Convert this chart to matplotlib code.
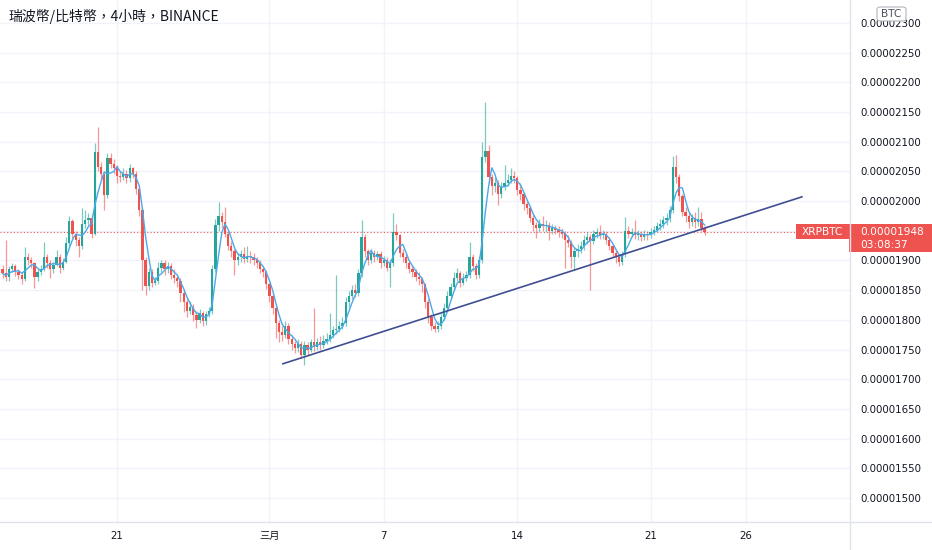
import numpy as np
import pandas as pd
import matplotlib
matplotlib.use("Agg")
import matplotlib.pyplot as plt
import matplotlib.dates as mdates
from matplotlib.patches import Rectangle, FancyBboxPatch
from matplotlib.lines import Line2D

plt.rcParams['font.family'] = ['DejaVu Sans', 'Noto Sans CJK TC']

# === DATA (prices in satoshi, 4h candles starting 2022-02-15 00:00) ===
first_open = 1885
closes = [
    1878, 1872, 1885, 1890, 1880, 1876, 1868, 1905, 1900, 1895,
    1872, 1880, 1885, 1906, 1895, 1885, 1893, 1905, 1888, 1898,
    1930, 1966, 1945, 1935, 1925, 1962, 1968, 1972, 1945, 2082,
    2058, 2045, 2010, 2072, 2062, 2055, 2042, 2040, 2046, 2038,
    2055, 2045, 2020, 1985, 1900, 1857, 1880, 1862, 1865, 1888,
    1895, 1885, 1890, 1876, 1870, 1865, 1845, 1830, 1815, 1822,
    1808, 1800, 1812, 1798, 1810, 1815, 1885, 1960, 1975, 1965,
    1945, 1925, 1915, 1900, 1905, 1910, 1902, 1908, 1905, 1900,
    1895, 1885, 1880, 1860, 1840, 1820, 1795, 1780, 1775, 1790,
    1768, 1760, 1752, 1760, 1740, 1758, 1750, 1762, 1755, 1762,
    1758, 1765, 1768, 1775, 1782, 1785, 1790, 1795, 1830, 1840,
    1850, 1845, 1878, 1940, 1915, 1900, 1912, 1905, 1910, 1895,
    1900, 1888, 1895, 1948, 1942, 1912, 1905, 1895, 1885, 1880,
    1872, 1868, 1860, 1830, 1805, 1790, 1785, 1790, 1805, 1820,
    1840, 1855, 1870, 1878, 1862, 1870, 1875, 1905, 1890, 1875,
    1900, 2074, 2085, 2040, 2025, 2030, 2012, 2025, 2030, 2035,
    2042, 2038, 2018, 2012, 1995, 1988, 1972, 1960, 1955, 1962,
    1958, 1960, 1950, 1955, 1952, 1948, 1945, 1935, 1930, 1905,
    1915, 1920, 1925, 1935, 1940, 1932, 1945, 1948, 1943, 1945,
    1935, 1925, 1912, 1905, 1898, 1910, 1950, 1945, 1948, 1942,
    1945, 1940, 1945, 1942, 1948, 1952, 1958, 1962, 1968, 1972,
    1985, 2058, 2040, 2008, 1982, 1975, 1965, 1972, 1965, 1970,
    1955, 1948,
]
highs = [
    1892, 1934, 1890, 1896, 1894, 1886, 1880, 1922, 1912, 1906,
    1898, 1886, 1892, 1931, 1910, 1900, 1898, 1918, 1910, 1904,
    1940, 1975, 1970, 1950, 1940, 1988, 1985, 1980, 1978, 2098,
    2125, 2065, 2050, 2080, 2080, 2070, 2060, 2050, 2055, 2052,
    2062, 2058, 2050, 2025, 1990, 1905, 1888, 1885, 1872, 1898,
    1900, 1900, 1898, 1895, 1885, 1875, 1870, 1850, 1835, 1832,
    1826, 1815, 1818, 1815, 1815, 1822, 1892, 1970, 1998, 1982,
    1990, 1950, 1932, 1920, 1912, 1918, 1922, 1925, 1915, 1912,
    1905, 1900, 1890, 1884, 1862, 1845, 1825, 1800, 1790, 1798,
    1795, 1775, 1765, 1768, 1765, 1765, 1762, 1768, 1820, 1770,
    1772, 1775, 1778, 1811, 1790, 1875, 1798, 1805, 1838, 1848,
    1858, 1860, 1885, 1968, 1945, 1920, 1920, 1918, 1916, 1915,
    1908, 1905, 1902, 1980, 1962, 1945, 1920, 1910, 1900, 1892,
    1885, 1880, 1872, 1862, 1835, 1810, 1796, 1798, 1812, 1828,
    1848, 1862, 1880, 1888, 1882, 1878, 1882, 1931, 1910, 1895,
    1908, 2100, 2167, 2095, 2045, 2040, 2035, 2032, 2060, 2045,
    2055, 2050, 2042, 2030, 2016, 2000, 1992, 1978, 1965, 1970,
    1975, 1968, 1965, 1962, 1960, 1958, 1955, 1950, 1942, 1935,
    1922, 1928, 1932, 1942, 1948, 1945, 1952, 1955, 1960, 1952,
    1950, 1940, 1928, 1918, 1910, 1915, 1973, 1958, 1955, 1968,
    1952, 1950, 1952, 1950, 1955, 1958, 1965, 1970, 1975, 1980,
    1992, 2075, 2077, 2045, 2012, 1990, 1980, 1978, 1982, 1990,
    1982, 1958,
]
lows = [
    1870, 1865, 1866, 1880, 1874, 1868, 1860, 1865, 1893, 1888,
    1853, 1866, 1875, 1882, 1888, 1870, 1878, 1890, 1878, 1884,
    1895, 1925, 1938, 1925, 1905, 1920, 1955, 1960, 1938, 1942,
    2050, 2035, 1985, 2005, 2055, 2045, 2030, 2032, 2035, 2030,
    2032, 2038, 2012, 1975, 1850, 1842, 1850, 1855, 1858, 1860,
    1880, 1875, 1878, 1868, 1862, 1855, 1830, 1813, 1805, 1810,
    1798, 1786, 1795, 1790, 1792, 1805, 1810, 1880, 1950, 1955,
    1940, 1918, 1905, 1875, 1893, 1898, 1895, 1898, 1896, 1892,
    1888, 1878, 1872, 1852, 1830, 1810, 1770, 1763, 1765, 1770,
    1760, 1750, 1744, 1745, 1735, 1724, 1740, 1745, 1748, 1750,
    1750, 1752, 1760, 1762, 1770, 1776, 1780, 1785, 1790, 1822,
    1835, 1838, 1840, 1872, 1905, 1893, 1895, 1898, 1900, 1888,
    1890, 1882, 1855, 1890, 1935, 1905, 1898, 1888, 1878, 1872,
    1865, 1858, 1847, 1820, 1795, 1782, 1780, 1780, 1785, 1800,
    1815, 1835, 1850, 1865, 1855, 1858, 1865, 1870, 1882, 1868,
    1870, 1895, 2065, 2030, 2010, 2015, 1993, 2005, 2018, 2025,
    2030, 2030, 2010, 2002, 1985, 1978, 1965, 1950, 1938, 1948,
    1950, 1948, 1934, 1945, 1944, 1940, 1938, 1887, 1922, 1887,
    1884, 1905, 1912, 1918, 1928, 1850, 1928, 1938, 1936, 1936,
    1928, 1918, 1905, 1895, 1890, 1892, 1905, 1938, 1940, 1936,
    1935, 1932, 1935, 1935, 1938, 1942, 1948, 1952, 1955, 1960,
    1965, 1980, 2030, 2000, 1975, 1965, 1955, 1958, 1955, 1958,
    1950, 1943,
]

# trend line drawn on the chart (time, price)
trend_times = ["2022-03-01 17:00", "2022-03-28 22:30"]
trend_prices = [1726, 2007]

price_ticks = list(range(1500, 2301, 50))
date_ticks = ["2022-02-21", "2022-03-01", "2022-03-07", "2022-03-14", "2022-03-21", "2022-03-26"]
date_labels = ["21", "三月", "7", "14", "21", "26"]

title = "瑞波幣/比特幣，4小時，BINANCE"
symbol = "XRPBTC"
countdown = "03:08:37"

UP, DOWN = "#26a69a", "#ef5350"
TEXT = "#131722"
BORDER = "#e0e3eb"

W, H = 932, 550

def main():
    c = np.array(closes, float)
    o = np.concatenate([[first_open], c[:-1]])
    hi = np.array(highs, float)
    lo = np.array(lows, float)
    times = pd.date_range("2022-02-15 00:00", periods=len(c), freq="4h")
    x = mdates.date2num(times)
    colors = np.where(c >= o, UP, DOWN)

    fig = plt.figure(figsize=(W / 100, H / 100), dpi=100)
    ax = fig.add_axes([0, 28 / H, 850 / W, 522 / H])

    # wicks + bodies
    ax.vlines(x, lo, hi, colors=colors, lw=0.9, alpha=0.6, zorder=3)
    body = np.maximum(np.abs(c - o), 0.8)
    ax.bar(x, body, bottom=np.minimum(o, c), width=0.12, color=colors,
           lw=0, zorder=4)

    # moving average
    ma = pd.Series(c).rolling(4, min_periods=1).mean()
    ax.plot(x, ma, color="#4ba9ea", lw=1.0, zorder=5)

    # trend line
    ax.plot(mdates.date2num(pd.to_datetime(trend_times)), trend_prices,
            color="#3f4f91", lw=1.2, zorder=6)

    # last price dotted line
    last = c[-1]
    ax.axhline(last, color=DOWN, lw=0.8, ls=(0, (1, 2)), zorder=2)

    base = mdates.date2num(pd.Timestamp("2022-02-15"))
    ax.set_xlim(base - 0.136, base + 44.46)
    ax.set_ylim(1459.6, 2338.4)

    # price label hidden where the last-price badge sits
    def fmt(v, p):
        if abs(v - last) < 20:
            return ""
        return f"{v * 1e-8:.8f}"

    ax.set_yticks(price_ticks)
    ax.yaxis.set_major_formatter(plt.FuncFormatter(fmt))
    ax.yaxis.tick_right()
    ax.set_xticks(mdates.date2num(pd.to_datetime(date_ticks)))
    ax.set_xticklabels(date_labels)
    ax.tick_params(axis="y", length=0, pad=7.5, labelsize=7.4, labelcolor=TEXT)
    ax.tick_params(axis="x", length=0, pad=6.5, labelsize=7.4, labelcolor=TEXT)
    ax.grid(True, color="#f0f3fa", lw=1.0, zorder=0)
    ax.set_axisbelow(True)
    for s in ax.spines.values():
        s.set_visible(False)

    # axis borders
    fig.add_artist(Line2D([0, 1], [1 - 522 / H] * 2, color=BORDER, lw=1))
    fig.add_artist(Line2D([850 / W] * 2, [0, 1], color=BORDER, lw=1))

    fig.text(8 / W, 1 - 16 / H, title, fontsize=10, color=TEXT,
             va="center", ha="left", family=['Noto Sans CJK TC', 'DejaVu Sans'])

    # last price badge
    fig.canvas.draw()
    ypix = ax.transData.transform((x[-1], last))[1]
    top = ypix + 7.5
    fig.add_artist(Rectangle((796 / W, (top - 15) / H), 53 / W, 15 / H,
                             transform=fig.transFigure, color=DOWN, lw=0))
    fig.add_artist(Rectangle((849 / W, (top - 28) / H), 83 / W, 28 / H,
                             transform=fig.transFigure, color=DOWN, lw=0))
    fig.text(822 / W, (top - 7.5) / H, symbol, fontsize=7.6, color="white",
             ha="center", va="center")
    fig.text(860 / W, (top - 7.5) / H, f"{last * 1e-8:.8f}", fontsize=7.6,
             color="white", ha="left", va="center")
    fig.text(860 / W, (top - 21) / H, countdown, fontsize=7.6,
             color="white", ha="left", va="center")

    # currency badge
    fig.add_artist(FancyBboxPatch((877 / W, 1 - 21 / H), 29 / W, 14 / H,
                                  boxstyle="round,pad=0,rounding_size=0.004",
                                  transform=fig.transFigure, fc="white",
                                  ec="#b2b5be", lw=0.8, zorder=5))
    fig.text(891.5 / W, 1 - 14 / H, "BTC", fontsize=7.6, color="#50535e",
             ha="center", va="center", zorder=6)

    fig.savefig("out.png", dpi=100)

if __name__ == "__main__":
    main()
